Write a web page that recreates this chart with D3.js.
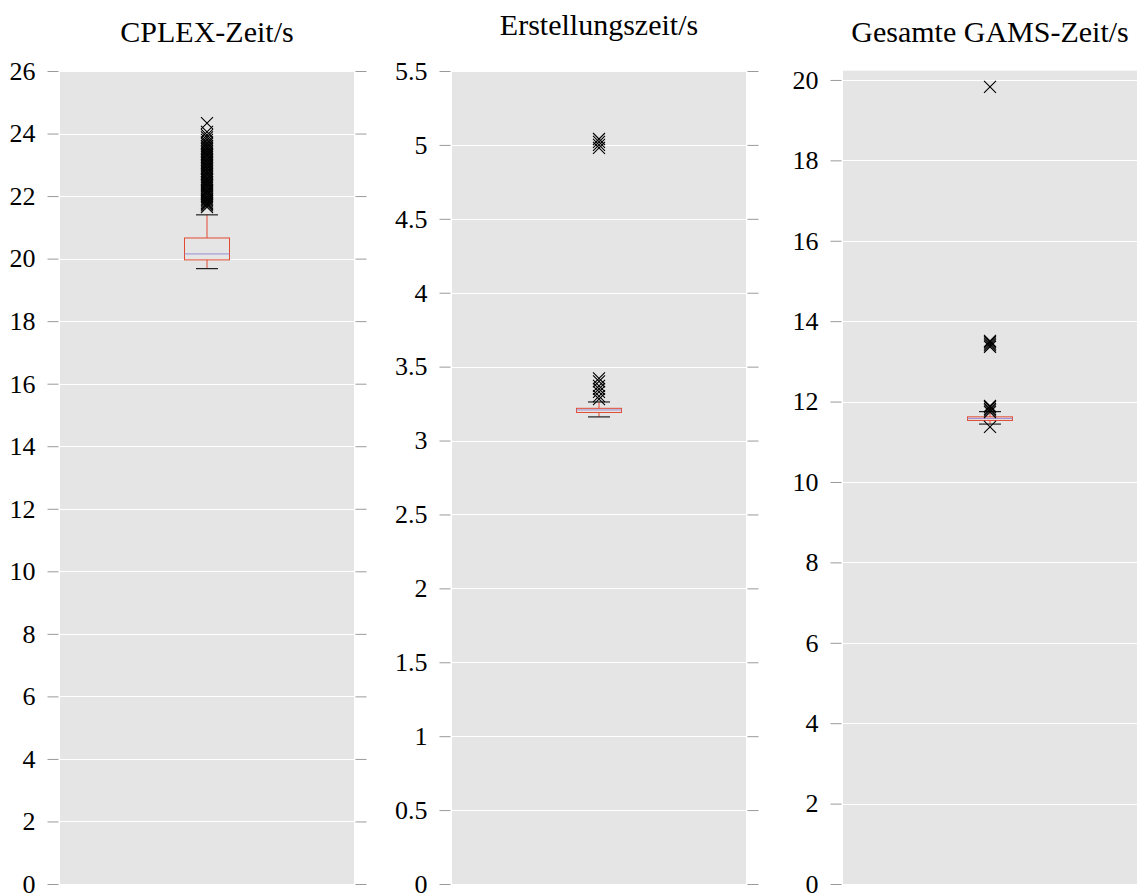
<!DOCTYPE html>
<html>
<head>
<meta charset="utf-8">
<script src="https://cdn.jsdelivr.net/npm/d3@7"></script>
<style>
  html, body { margin: 0; padding: 0; background: #ffffff; }
  svg { display: block; }
  text { font-family: "Liberation Serif", "DejaVu Serif", serif; fill: #000; }
</style>
</head>
<body>
<svg id="chart" width="1138" height="895"></svg>
<script>
// ---- data ----
const titles = ["CPLEX-Zeit/s", "Erstellungszeit/s", "Gesamte GAMS-Zeit/s"];
const yMax = [26, 5.5, 20.23];
const tickValues1 = [0, 2, 4, 6, 8, 10, 12, 14, 16, 18, 20, 22, 24, 26];
const tickValues2 = [0, 0.5, 1, 1.5, 2, 2.5, 3, 3.5, 4, 4.5, 5, 5.5];
const tickValues3 = [0, 2, 4, 6, 8, 10, 12, 14, 16, 18, 20];
// [lower whisker, q1, median, q3, upper whisker]
const cplexStats = [19.68, 19.96, 20.15, 20.66, 21.40];
const erstStats = [3.16, 3.19, 3.207, 3.218, 3.261];
const gamsStats = [11.44, 11.53, 11.58, 11.62, 11.75];
const cplexOutliers = [21.65, 21.7, 21.74, 21.78, 21.83, 21.88, 21.92, 21.97, 22.02, 22.07, 22.12,
  22.16, 22.2, 22.26, 22.31, 22.36, 22.4, 22.45, 22.5, 22.55, 22.6, 22.66, 22.71, 22.76, 22.8,
  22.86, 22.9, 22.95, 23.0, 23.05, 23.1, 23.15, 23.2, 23.26, 23.3, 23.35, 23.4, 23.45, 23.5,
  23.55, 23.6, 23.66, 23.72, 23.8, 23.88, 23.95, 24.05, 24.33];
const erstOutliers = [3.28, 3.30, 3.33, 3.35, 3.37, 3.40, 3.42, 4.98, 5.0, 5.02, 5.04];
const gamsOutliers = [11.37, 11.74, 11.78, 11.82, 11.86, 11.89, 13.36, 13.4, 13.44, 13.48, 13.51, 19.83];

const panels = [
  { title: titles[0], max: yMax[0], ticks: tickValues1, stats: cplexStats, out: cplexOutliers, x0: 60, x1: 354 },
  { title: titles[1], max: yMax[1], ticks: tickValues2, stats: erstStats, out: erstOutliers, x0: 452, x1: 746 },
  { title: titles[2], max: yMax[2], ticks: tickValues3, stats: gamsStats, out: gamsOutliers, x0: 843, x1: 1137 }
];

const svg = d3.select("#chart");
const plotTop = 71, plotBottom = 884;
const boxW = 45, capW = 22, mk = 6;
const red = "#E24A33", med = "#988ED5";

panels.forEach((p, i) => {
  const y = d3.scaleLinear().domain([0, p.max]).range([plotBottom, (i === 2 ? 70.7 : plotTop)]);
  const x = d3.scalePoint().domain(["a"]).range([p.x0, p.x1]).padding(0.5);
  const g = svg.append("g");

  g.append("rect").attr("x", p.x0).attr("y", y(p.max)).attr("width", p.x1 - p.x0)
    .attr("height", plotBottom - y(p.max)).attr("fill", "#E5E5E5");

  // grid
  g.selectAll("line.grid").data(p.ticks).join("line")
    .attr("x1", p.x0).attr("x2", p.x1)
    .attr("y1", d => Math.round(y(d)) + 0.5).attr("y2", d => Math.round(y(d)) + 0.5)
    .attr("stroke", "#ffffff").attr("stroke-width", 1);

  // left axis
  const fmt = d => String(d);
  const axL = d3.axisLeft(y).tickValues(p.ticks).tickFormat(fmt).tickSize(11).tickPadding(12);
  const gl = g.append("g").attr("transform", `translate(${p.x0 - 1.5},0)`).call(axL);
  gl.select(".domain").remove();
  gl.selectAll(".tick line").attr("stroke", "#9a9a9a");
  gl.selectAll(".tick text").style("font-size", "26px").style("font-family", "'Liberation Serif', serif").attr("fill", "#000");

  const axR = d3.axisRight(y).tickValues(p.ticks).tickFormat("").tickSize(11);
  const gr = g.append("g").attr("transform", `translate(${p.x1 + 1.5},0)`).call(axR);
  gr.select(".domain").remove();
  gr.selectAll(".tick line").attr("stroke", "#9a9a9a");

  // title
  g.append("text").attr("x", (p.x0 + p.x1) / 2).attr("y", i === 1 ? 35 : 42)
    .attr("text-anchor", "middle").style("font-size", "30px").text(p.title);

  const cx = x("a");
  const s = p.stats;
  // whiskers
  g.append("line").attr("x1", cx).attr("x2", cx).attr("y1", y(s[3])).attr("y2", y(s[4])).attr("stroke", red);
  g.append("line").attr("x1", cx).attr("x2", cx).attr("y1", y(s[1])).attr("y2", y(s[0])).attr("stroke", red);
  // caps
  [s[0], s[4]].forEach(v => {
    g.append("line").attr("x1", cx - capW / 2).attr("x2", cx + capW / 2)
      .attr("y1", y(v)).attr("y2", y(v)).attr("stroke", "#222").attr("stroke-width", 1.2);
  });
  // box
  g.append("rect").attr("x", cx - boxW / 2).attr("y", y(s[3])).attr("width", boxW)
    .attr("height", Math.max(1, y(s[1]) - y(s[3]))).attr("fill", "none").attr("stroke", red);
  // median
  g.append("line").attr("x1", cx - boxW / 2).attr("x2", cx + boxW / 2)
    .attr("y1", y(s[2])).attr("y2", y(s[2])).attr("stroke", med);
  // outliers
  const ox = g.selectAll("g.fl").data(p.out).join("g")
    .attr("transform", d => `translate(${cx},${y(d)})`);
  ox.append("path").attr("d", `M${-mk},${-mk}L${mk},${mk}M${-mk},${mk}L${mk},${-mk}`)
    .attr("stroke", "#000").attr("stroke-width", 1.1).attr("fill", "none");
});
</script>
</body>
</html>
